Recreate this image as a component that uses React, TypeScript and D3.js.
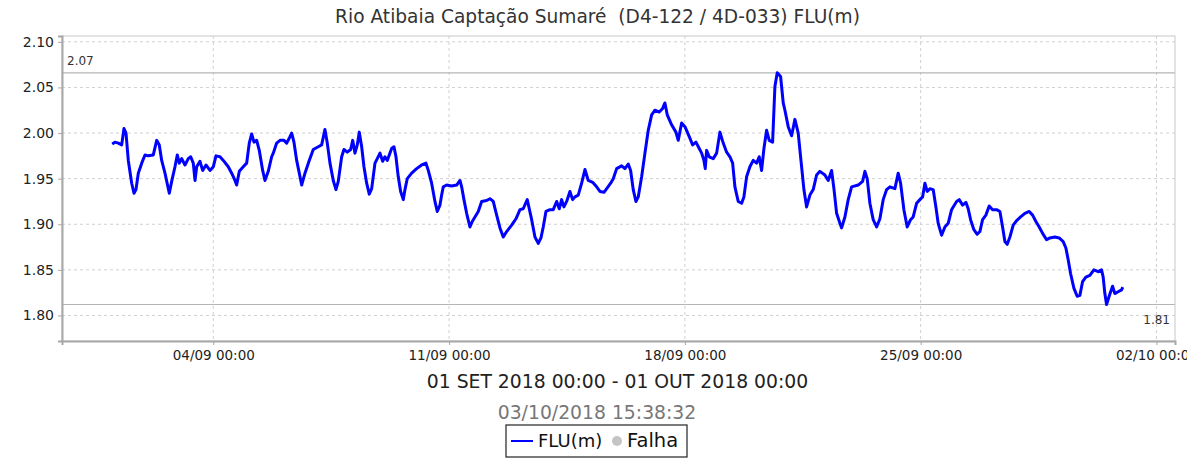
import React, { useEffect, useRef } from "react";
import * as d3 from "d3";

const title = "Rio Atibaia Captação Sumaré  (D4-122 / 4D-033) FLU(m)";
const periodLabel = "01 SET 2018 00:00 - 01 OUT 2018 00:00";
const stampLabel = "03/10/2018 15:38:32";
const legendLabels = ["FLU(m)", "Falha"];

const seriesStart = Date.UTC(2018, 8, 1); // 01/09/2018 00:00
const xDomainDays = [-1.49, 31.55];
const yDomain = [1.772, 2.1064];
const yTicks = [1.8, 1.85, 1.9, 1.95, 2.0, 2.05, 2.1];
const xTickLabels = ["04/09 00:00", "11/09 00:00", "18/09 00:00", "25/09 00:00", "02/10 00:00"];

// [dias desde 01/09 00:00, nivel FLU (m)]
const readings: [number, number][] = [
  [0.0, 1.988], [0.083, 1.99], [0.181, 1.989], [0.282, 1.987], [0.35, 2.005], [0.41, 2.0],
  [0.478, 1.97], [0.579, 1.945], [0.647, 1.934], [0.706, 1.938], [0.775, 1.956], [0.876, 1.967],
  [0.974, 1.976], [1.072, 1.975], [1.22, 1.976], [1.321, 1.992], [1.398, 1.987], [1.469, 1.97],
  [1.567, 1.956], [1.695, 1.934], [1.766, 1.947], [1.864, 1.963], [1.932, 1.976], [1.992, 1.967],
  [2.063, 1.972], [2.161, 1.965], [2.259, 1.972], [2.33, 1.974], [2.407, 1.967], [2.458, 1.948],
  [2.508, 1.963], [2.606, 1.969], [2.686, 1.959], [2.784, 1.965], [2.903, 1.959], [3.001, 1.963],
  [3.081, 1.975], [3.2, 1.974], [3.298, 1.97], [3.446, 1.963], [3.547, 1.956], [3.645, 1.948],
  [3.695, 1.943], [3.773, 1.958], [3.891, 1.963], [3.992, 1.967], [4.069, 1.989], [4.141, 1.999],
  [4.209, 1.99], [4.289, 1.992], [4.366, 1.981], [4.467, 1.959], [4.535, 1.948], [4.633, 1.958],
  [4.734, 1.974], [4.782, 1.978], [4.883, 1.989], [4.981, 1.992], [5.099, 1.992], [5.18, 1.989],
  [5.278, 1.996], [5.328, 2.0], [5.396, 1.99], [5.476, 1.97], [5.554, 1.956], [5.625, 1.943],
  [5.723, 1.956], [5.85, 1.97], [5.969, 1.982], [6.118, 1.985], [6.218, 1.987], [6.316, 2.004],
  [6.385, 1.989], [6.465, 1.967], [6.563, 1.948], [6.643, 1.938], [6.711, 1.947], [6.812, 1.974],
  [6.88, 1.982], [6.978, 1.979], [7.079, 1.982], [7.139, 1.992], [7.207, 1.978], [7.275, 1.987],
  [7.335, 2.001], [7.406, 1.985], [7.474, 1.963], [7.554, 1.945], [7.631, 1.933], [7.703, 1.939],
  [7.801, 1.967], [7.869, 1.972], [7.949, 1.978], [8.029, 1.969], [8.097, 1.974], [8.166, 1.97],
  [8.225, 1.976], [8.296, 1.983], [8.365, 1.985], [8.424, 1.974], [8.492, 1.952], [8.563, 1.936],
  [8.641, 1.927], [8.691, 1.938], [8.759, 1.95], [8.89, 1.956], [9.038, 1.961], [9.187, 1.965],
  [9.314, 1.967], [9.383, 1.959], [9.483, 1.945], [9.581, 1.925], [9.65, 1.914], [9.73, 1.921],
  [9.78, 1.932], [9.828, 1.941], [9.929, 1.943], [10.077, 1.942], [10.226, 1.943], [10.324, 1.948],
  [10.374, 1.941], [10.442, 1.927], [10.522, 1.912], [10.62, 1.897], [10.689, 1.903], [10.769, 1.908],
  [10.867, 1.914], [10.968, 1.925], [11.116, 1.926], [11.214, 1.928], [11.312, 1.925], [11.413, 1.91],
  [11.511, 1.896], [11.609, 1.886], [11.71, 1.892], [11.858, 1.899], [11.986, 1.906], [12.105, 1.916],
  [12.202, 1.917], [12.321, 1.927], [12.381, 1.917], [12.452, 1.905], [12.55, 1.886], [12.648, 1.879],
  [12.728, 1.885], [12.796, 1.897], [12.876, 1.914], [12.995, 1.916], [13.093, 1.916], [13.194, 1.925],
  [13.271, 1.917], [13.342, 1.927], [13.41, 1.919], [13.491, 1.925], [13.588, 1.936], [13.669, 1.927],
  [13.737, 1.93], [13.835, 1.932], [13.936, 1.945], [14.034, 1.96], [14.132, 1.948], [14.262, 1.946],
  [14.381, 1.941], [14.479, 1.936], [14.598, 1.935], [14.696, 1.94], [14.797, 1.945], [14.874, 1.95],
  [14.975, 1.961], [15.123, 1.964], [15.221, 1.961], [15.319, 1.966], [15.39, 1.959], [15.467, 1.938],
  [15.547, 1.925], [15.616, 1.93], [15.717, 1.952], [15.815, 1.978], [15.913, 2.003], [16.014, 2.02],
  [16.112, 2.025], [16.239, 2.023], [16.34, 2.027], [16.408, 2.033], [16.477, 2.02], [16.607, 2.009],
  [16.735, 2.001], [16.803, 1.992], [16.904, 2.011], [17.002, 2.007], [17.13, 1.996], [17.231, 1.987],
  [17.329, 1.99], [17.427, 1.983], [17.498, 1.978], [17.566, 1.97], [17.605, 1.961], [17.646, 1.981],
  [17.723, 1.974], [17.842, 1.972], [17.943, 1.978], [18.041, 2.001], [18.139, 1.989], [18.24, 1.979],
  [18.338, 1.974], [18.418, 1.967], [18.486, 1.941], [18.584, 1.925], [18.685, 1.923], [18.753, 1.93],
  [18.833, 1.952], [18.931, 1.963], [19.029, 1.97], [19.13, 1.967], [19.207, 1.974], [19.278, 1.959],
  [19.347, 1.983], [19.427, 2.003], [19.504, 1.992], [19.605, 1.99], [19.673, 2.051], [19.742, 2.066],
  [19.842, 2.062], [19.92, 2.033], [19.97, 2.025], [20.068, 2.007], [20.169, 1.997], [20.267, 2.015],
  [20.365, 2.0], [20.466, 1.963], [20.534, 1.938], [20.614, 1.919], [20.712, 1.932], [20.81, 1.938],
  [20.911, 1.954], [21.009, 1.958], [21.157, 1.954], [21.256, 1.948], [21.356, 1.959], [21.425, 1.939],
  [21.505, 1.912], [21.603, 1.901], [21.653, 1.896], [21.751, 1.908], [21.849, 1.927], [21.95, 1.941],
  [22.146, 1.943], [22.277, 1.947], [22.345, 1.958], [22.413, 1.95], [22.493, 1.923], [22.591, 1.905],
  [22.692, 1.897], [22.79, 1.906], [22.888, 1.927], [22.989, 1.938], [23.087, 1.941], [23.235, 1.939],
  [23.333, 1.956], [23.404, 1.945], [23.502, 1.916], [23.6, 1.897], [23.701, 1.905], [23.778, 1.908],
  [23.879, 1.923], [23.977, 1.927], [24.057, 1.93], [24.126, 1.945], [24.194, 1.936], [24.274, 1.939],
  [24.372, 1.938], [24.452, 1.919], [24.52, 1.901], [24.621, 1.888], [24.719, 1.897], [24.817, 1.901],
  [24.918, 1.916], [24.966, 1.919], [25.067, 1.925], [25.144, 1.927], [25.245, 1.921], [25.343, 1.924],
  [25.411, 1.917], [25.482, 1.905], [25.58, 1.894], [25.678, 1.889], [25.758, 1.892], [25.838, 1.905],
  [25.936, 1.91], [26.034, 1.92], [26.135, 1.916], [26.254, 1.916], [26.352, 1.914], [26.432, 1.897],
  [26.5, 1.881], [26.569, 1.878], [26.649, 1.886], [26.747, 1.899], [26.848, 1.904], [26.967, 1.908],
  [27.094, 1.912], [27.222, 1.914], [27.323, 1.91], [27.421, 1.903], [27.519, 1.897], [27.62, 1.89],
  [27.738, 1.883], [27.836, 1.885], [27.984, 1.886], [28.112, 1.885], [28.231, 1.881], [28.311, 1.874],
  [28.379, 1.861], [28.45, 1.846], [28.548, 1.83], [28.646, 1.821], [28.726, 1.822], [28.806, 1.837],
  [28.904, 1.842], [29.023, 1.844], [29.142, 1.85], [29.269, 1.848], [29.37, 1.85], [29.418, 1.842],
  [29.468, 1.824], [29.518, 1.812], [29.595, 1.821], [29.696, 1.832], [29.765, 1.824], [29.862, 1.826],
  [29.963, 1.828], [30.0, 1.831],
];

const DAY = 24 * 3600 * 1000;
const FONT = "'DejaVu Sans', sans-serif";

export default function App() {
  const svgRef = useRef<SVGSVGElement>(null);

  useEffect(() => {
    document.body.style.margin = "0";
    const svg = d3.select(svgRef.current);
    svg.selectAll("*").remove();

    const W = 1187;
    const H = 459;
    const m = { left: 62, right: 12, top: 36, bottom: 118 };
    const pw = W - m.left - m.right;
    const ph = H - m.top - m.bottom;

    const x = d3
      .scaleUtc()
      .domain(xDomainDays.map((d) => new Date(seriesStart + d * DAY)))
      .range([0, pw]);
    const y = d3.scaleLinear().domain(yDomain).range([ph, 0]);

    const parseTick = d3.utcParse("%d/%m/%Y %H:%M");
    const xTicks = xTickLabels.map((l) => parseTick(l.replace(" ", "/2018 ")) as Date);

    // title
    svg
      .append("text")
      .attr("x", W / 2 + 4)
      .attr("y", 23)
      .attr("text-anchor", "middle")
      .style("white-space", "pre")
      .attr("font-family", FONT)
      .attr("font-size", 18.6)
      .attr("fill", "#333")
      .text(title);

    const g = svg.append("g").attr("transform", `translate(${m.left},${m.top})`);

    // grid
    g.selectAll("line.gy")
      .data(yTicks)
      .join("line")
      .attr("class", "gy")
      .attr("x1", 0)
      .attr("x2", pw)
      .attr("y1", (d) => y(d))
      .attr("y2", (d) => y(d))
      .attr("stroke", "#d0d0d0")
      .attr("stroke-dasharray", "3,3");
    g.selectAll("line.gx")
      .data(xTicks)
      .join("line")
      .attr("class", "gx")
      .attr("y1", 0)
      .attr("y2", ph)
      .attr("x1", (d) => x(d))
      .attr("x2", (d) => x(d))
      .attr("stroke", "#d0d0d0")
      .attr("stroke-dasharray", "3,3");

    // max / min markers
    const vMax = d3.max(readings, (r) => r[1]) as number;
    const vMin = d3.min(readings, (r) => r[1]) as number;
    [vMax, vMin].forEach((v) => {
      g.append("line")
        .attr("x1", 0)
        .attr("x2", pw)
        .attr("y1", y(v))
        .attr("y2", y(v))
        .attr("stroke", "#b5b5b5")
        .attr("stroke-width", 1.2);
    });
    g.append("text")
      .attr("x", 5)
      .attr("y", y(vMax) - 8)
      .attr("font-family", FONT)
      .attr("font-size", 12)
      .attr("fill", "#333")
      .text(d3.format(".2f")(vMax));
    g.append("text")
      .attr("x", pw - 5)
      .attr("y", y(vMin) + 19)
      .attr("text-anchor", "end")
      .attr("font-family", FONT)
      .attr("font-size", 12)
      .attr("fill", "#333")
      .text(d3.format(".2f")(vMin));

    // series
    svg
      .append("clipPath")
      .attr("id", "plotclip")
      .append("rect")
      .attr("width", pw)
      .attr("height", ph);
    const line = d3
      .line<[number, number]>()
      .x((d) => x(new Date(seriesStart + d[0] * DAY)))
      .y((d) => y(d[1]))
      .curve(d3.curveLinear);
    g.append("path")
      .datum(readings)
      .attr("clip-path", "url(#plotclip)")
      .attr("fill", "none")
      .attr("stroke", "#0000ff")
      .attr("stroke-width", 3)
      .attr("stroke-linejoin", "round")
      .attr("d", line);

    // frame
    g.append("rect")
      .attr("width", pw)
      .attr("height", ph)
      .attr("fill", "none")
      .attr("stroke", "#c8c8c8");

    // axes
    const yAxis = d3
      .axisLeft(y)
      .tickValues(yTicks)
      .tickSize(4)
      .tickPadding(4)
      .tickFormat((d) => d3.format(".2f")(d as number));
    g.append("g")
      .call(yAxis)
      .call((a) => a.select(".domain").attr("stroke", "#a8a8a8").attr("stroke-width", 2))
      .call((a) => a.selectAll(".tick line").attr("stroke", "#a8a8a8"))
      .call((a) =>
        a.selectAll("text").attr("font-family", FONT).attr("font-size", 14).attr("fill", "#222")
      );

    const xAxis = d3
      .axisBottom(x)
      .tickValues(xTicks)
      .tickSize(4)
      .tickPadding(5)
      .tickFormat((d) => d3.utcFormat("%d/%m %H:%M")(d as Date));
    g.append("g")
      .attr("transform", `translate(0,${ph})`)
      .call(xAxis)
      .call((a) => a.select(".domain").attr("stroke", "#a8a8a8").attr("stroke-width", 2))
      .call((a) => a.selectAll(".tick line").attr("stroke", "#a8a8a8"))
      .call((a) =>
        a.selectAll("text").attr("font-family", FONT).attr("font-size", 13.5).attr("fill", "#222")
      );

    // period + timestamp
    svg
      .append("text")
      .attr("x", W / 2 + 24)
      .attr("y", 388)
      .attr("text-anchor", "middle")
      .attr("font-family", FONT)
      .attr("font-size", 18.8)
      .attr("fill", "#222")
      .text(periodLabel);
    svg
      .append("text")
      .attr("x", W / 2 + 3.5)
      .attr("y", 419)
      .attr("text-anchor", "middle")
      .attr("font-family", FONT)
      .attr("font-size", 18.8)
      .attr("fill", "#777")
      .text(stampLabel);

    // legend
    const lg = svg.append("g").attr("transform", "translate(506,425)");
    lg.append("rect")
      .attr("width", 181)
      .attr("height", 32)
      .attr("fill", "white")
      .attr("stroke", "#222")
      .attr("stroke-width", 1.2);
    lg.append("line")
      .attr("x1", 5)
      .attr("x2", 27)
      .attr("y1", 16)
      .attr("y2", 16)
      .attr("stroke", "#0000ff")
      .attr("stroke-width", 2);
    lg.append("text")
      .attr("x", 32)
      .attr("y", 22)
      .attr("font-family", FONT)
      .attr("font-size", 18)
      .attr("fill", "#111")
      .text(legendLabels[0]);
    lg.append("circle").attr("cx", 111).attr("cy", 16).attr("r", 5).attr("fill", "#c4c4c4");
    lg.append("text")
      .attr("x", 121)
      .attr("y", 22)
      .attr("font-family", FONT)
      .attr("font-size", 19.5)
      .attr("fill", "#111")
      .text(legendLabels[1]);
  }, []);

  return <svg ref={svgRef} width={1187} height={459} style={{ display: "block", background: "white" }} />;
}
